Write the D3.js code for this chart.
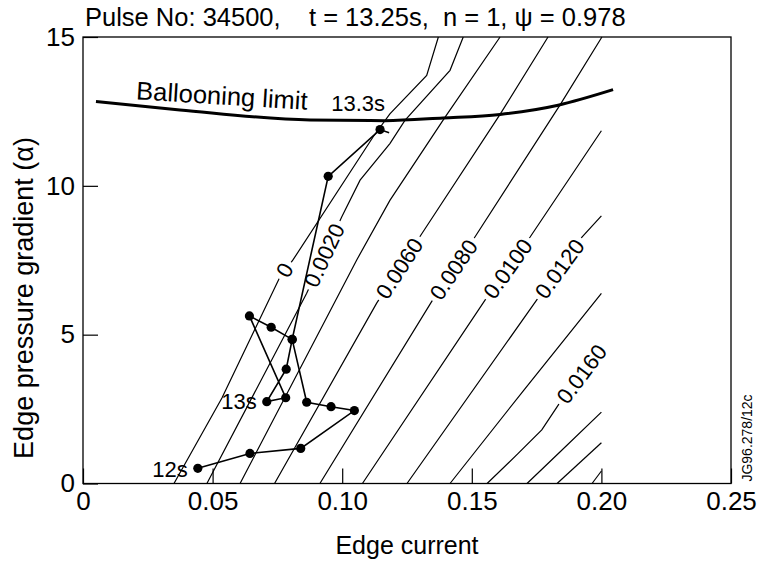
<!DOCTYPE html>
<html><head><meta charset="utf-8">
<script src="https://cdn.jsdelivr.net/npm/d3@7"></script>
<style>
body{margin:0;background:#fff}
svg text{font-family:"Liberation Sans",Arial,Helvetica,sans-serif;fill:#000}
</style>
</head><body>
<svg id="chart" width="759" height="565"></svg>
<script>
// ---------- DATA ----------
const titleText = "Pulse No: 34500,    t = 13.25s,  n = 1, \u03c8 = 0.978";
const xLabel = "Edge current";
const yLabel = "Edge pressure gradient (\u03b1)";
const sideNote = "JG96.278/12c";

const xTicks = [0, 0.05, 0.10, 0.15, 0.20, 0.25];
const xTickLabels = ["0", "0.05", "0.10", "0.15", "0.20", "0.25"];
const yTicks = [0, 5, 10, 15];
const yTickLabels = ["0", "5", "10", "15"];

// contour levels
const contourLevels = [0, 0.002, 0.004, 0.006, 0.008, 0.010, 0.012, 0.014, 0.016, 0.018, 0.020, 0.022];
const contour00 = [[0.0351,0],[0.0536,2.87],[0.0756,6.87],[0.0810,7.51],[0.1119,11.64],[0.1184,12.42],[0.1326,13.71],[0.1371,15]];
const contour02 = [[0.0478,0],[0.0863,6.39],[0.0998,8.95],[0.1069,10.19],[0.1184,11.42],[0.1242,12.20],[0.1416,13.88],[0.1467,15]];
const contour04 = [[0.0606,0],[0.1056,7.51],[0.1184,9.51],[0.1397,12.31],[0.1609,15]];
const contour06 = [[0.0739,0],[0.1133,6.06],[0.1307,8.39],[0.1609,12.40],[0.1794,15]];
const contour08 = [[0.0914,0],[0.1345,6.11],[0.1512,8.28],[0.1840,12.71],[0.2002,15]];
const contour10 = [[0.1078,0],[0.1551,6.16],[0.1725,8.28],[0.2000,11.85]];
const contour12 = [[0.1250,0],[0.1750,6.16],[0.1925,8.28],[0.2000,8.99]];
const contour14 = [[0.1416,0],[0.1701,3.14],[0.2000,6.39]];
const contour16 = [[0.1559,0],[0.1679,1.01],[0.1770,1.80],[0.1834,2.64],[0.2000,4.65]];
const contour18 = [[0.1713,0],[0.1840,1.06],[0.2000,2.40]];
const contour20 = [[0.1829,0],[0.2000,1.37]];
const contour22 = [[0.1964,0],[0.2000,0.42]];
const contourLines = [contour00, contour02, contour04, contour06, contour08, contour10,
                      contour12, contour14, contour16, contour18, contour20, contour22];

const contourLabelText  = ["0", "0.0020", "0.0060", "0.0080", "0.0100", "0.0120", "0.0160"];
const contourLabelX     = [0.0777, 0.0930, 0.1220, 0.1429, 0.1638, 0.1838, 0.1923];
const contourLabelY     = [7.17, 7.67, 7.23, 7.19, 7.22, 7.22, 3.68];
const contourLabelAngle = [-60, -65, -57, -56, -54.5, -54, -53];

// ballooning stability limit
const balloonX = [0.0050, 0.0374, 0.0876, 0.1165, 0.1389, 0.1609, 0.1833, 0.2045];
const balloonY = [12.83, 12.55, 12.21, 12.19, 12.28, 12.40, 12.71, 13.23];

// pulse trajectory (12 s -> 13.3 s)
const trajX = [0.0443, 0.0644, 0.0840, 0.1047, 0.0957, 0.0863, 0.0807, 0.0726, 0.0642, 0.0782, 0.0709, 0.0784, 0.0807, 0.0946, 0.1146];
const trajY = [0.51, 1.01, 1.18, 2.45, 2.58, 2.73, 4.84, 5.25, 5.63, 2.88, 2.75, 3.84, 4.84, 10.32, 11.89];
const trajTail = [0.1181, 11.78];
const timeLabels = [{t:"12s", i:0}, {t:"13s", i:10}, {t:"13.3s", i:14}];

// ---------- DRAW ----------
const W = 759, H = 565;
const svg = d3.select("#chart");
const x = d3.scaleLinear().domain([0, 0.25]).range([83, 731]);
const y = d3.scaleLinear().domain([0, 15]).range([483.5, 37]);
const FONT = '"Liberation Sans", Arial, Helvetica, sans-serif';

svg.append("rect").attr("width", W).attr("height", H).attr("fill", "#fff");

// title
svg.append("text").attr("x", 85).attr("y", 26)
  .attr("font-size", 25.5).style("white-space", "pre").text(titleText);

// contours
const line = d3.line().x(d => x(d[0])).y(d => y(d[1]));
svg.append("g").selectAll("path").data(contourLines).join("path")
  .attr("d", line).attr("fill", "none").attr("stroke", "#000").attr("stroke-width", 1.2);

// contour labels (with white background gap)
const lg = svg.append("g").selectAll("g").data(contourLabelText).join("g")
  .attr("transform", (d, i) => `translate(${x(contourLabelX[i])},${y(contourLabelY[i])}) rotate(${contourLabelAngle[i]})`);
lg.append("text").attr("text-anchor", "middle").attr("dy", "0.36em")
  .attr("font-size", 22).text(d => d);
lg.each(function() {
  const g = d3.select(this);
  const bb = g.select("text").node().getBBox();
  g.insert("rect", "text").attr("x", bb.x - 4).attr("y", bb.y + 3)
    .attr("width", bb.width + 8).attr("height", bb.height - 6).attr("fill", "#fff");
});

// ballooning limit
const bl = d3.line().curve(d3.curveMonotoneX).x(d => x(d[0])).y(d => y(d[1]));
svg.append("path").datum(balloonX.map((v, i) => [v, balloonY[i]]))
  .attr("d", bl).attr("fill", "none").attr("stroke", "#000").attr("stroke-width", 3);
svg.append("text")
  .attr("transform", `translate(${x(0.0534)},${y(12.73)}) rotate(3.5)`)
  .attr("text-anchor", "middle").attr("font-size", 25.5).text("Ballooning limit");

// trajectory
const traj = trajX.map((v, i) => [v, trajY[i]]);
svg.append("path").datum(traj.concat([trajTail]))
  .attr("d", line).attr("fill", "none").attr("stroke", "#000").attr("stroke-width", 1.6);
svg.append("g").selectAll("circle").data(traj).join("circle")
  .attr("cx", d => x(d[0])).attr("cy", d => y(d[1])).attr("r", 4.6).attr("fill", "#000");

// time labels
const tOff = {"12s": [-10, 9, "end"], "13s": [-10, 7, "end"], "13.3s": [5, -19, "end"]};
svg.append("g").selectAll("text").data(timeLabels).join("text")
  .attr("x", d => x(traj[d.i][0]) + tOff[d.t][0])
  .attr("y", d => y(traj[d.i][1]) + tOff[d.t][1])
  .attr("text-anchor", d => tOff[d.t][2]).attr("font-size", 22).text(d => d.t);

// frame
svg.append("rect").attr("x", x(0)).attr("y", y(15))
  .attr("width", x(0.25) - x(0)).attr("height", y(0) - y(15))
  .attr("fill", "none").attr("stroke", "#000").attr("stroke-width", 1.3);

// axes
const xa = svg.append("g").attr("transform", `translate(0,${y(0)})`)
  .call(d3.axisBottom(x).tickValues(xTicks).tickFormat((d, i) => xTickLabels[i])
    .tickSizeInner(-15).tickSizeOuter(0).tickPadding(8));
xa.select(".domain").remove();
xa.attr("font-size", 26).attr("font-family", FONT);
xa.selectAll("line").attr("stroke-width", 1.2);

const ya = svg.append("g").attr("transform", `translate(${x(0)},0)`)
  .call(d3.axisLeft(y).tickValues(yTicks).tickFormat((d, i) => yTickLabels[i])
    .tickSizeInner(-15).tickSizeOuter(0).tickPadding(8));
ya.select(".domain").remove();
ya.attr("font-size", 26).attr("font-family", FONT);
ya.selectAll("line").attr("stroke-width", 1.2);

// axis titles
svg.append("text").attr("x", (x(0) + x(0.25)) / 2).attr("y", 554)
  .attr("text-anchor", "middle").attr("font-size", 25).text(xLabel);
svg.append("text").attr("transform", "translate(33,298) rotate(-90)")
  .attr("text-anchor", "middle").attr("font-size", 27).text(yLabel);

// side note
svg.append("text").attr("transform", "translate(752,438) rotate(-90)")
  .attr("text-anchor", "middle").attr("font-size", 14).text(sideNote);
</script>
</body></html>
